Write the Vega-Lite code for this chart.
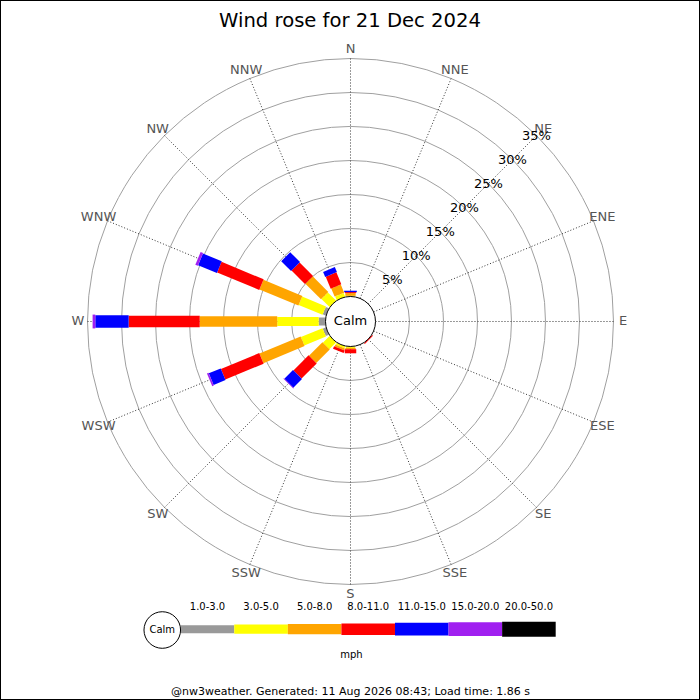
{
  "$schema": "https://vega.github.io/schema/vega-lite/v6.json",
  "width": 700,
  "height": 700,
  "autosize": {"type": "fit", "contains": "padding"},
  "padding": 0,
  "title": {
    "text": "Wind rose for 21 Dec 2024",
    "font": "DejaVu Sans",
    "fontSize": 19.6,
    "fontWeight": "normal",
    "color": "black",
    "anchor": "middle",
    "offset": -47,
    "baseline": "alphabetic"
  },
  "datasets": {
    "rose": [
      {"dir": "N", "angle": 0, "bin": "3.0-5.0", "pct": 0.1},
      {"dir": "N", "angle": 0, "bin": "5.0-8.0", "pct": 0.4},
      {"dir": "N", "angle": 0, "bin": "8.0-11.0", "pct": 0.15},
      {"dir": "N", "angle": 0, "bin": "11.0-15.0", "pct": 0.2},
      {"dir": "NNW", "angle": 337.5, "bin": "3.0-5.0", "pct": 0.6},
      {"dir": "NNW", "angle": 337.5, "bin": "5.0-8.0", "pct": 1.3},
      {"dir": "NNW", "angle": 337.5, "bin": "8.0-11.0", "pct": 1.9},
      {"dir": "NNW", "angle": 337.5, "bin": "11.0-15.0", "pct": 0.8},
      {"dir": "NW", "angle": 315, "bin": "3.0-5.0", "pct": 1.7},
      {"dir": "NW", "angle": 315, "bin": "5.0-8.0", "pct": 3.25},
      {"dir": "NW", "angle": 315, "bin": "8.0-11.0", "pct": 2.8},
      {"dir": "NW", "angle": 315, "bin": "11.0-15.0", "pct": 2.05},
      {"dir": "WNW", "angle": 292.5, "bin": "1.0-3.0", "pct": 0.5},
      {"dir": "WNW", "angle": 292.5, "bin": "3.0-5.0", "pct": 3.8},
      {"dir": "WNW", "angle": 292.5, "bin": "5.0-8.0", "pct": 6.2},
      {"dir": "WNW", "angle": 292.5, "bin": "8.0-11.0", "pct": 6.7},
      {"dir": "WNW", "angle": 292.5, "bin": "11.0-15.0", "pct": 3.0},
      {"dir": "WNW", "angle": 292.5, "bin": "15.0-20.0", "pct": 0.4},
      {"dir": "W", "angle": 270, "bin": "1.0-3.0", "pct": 1.0},
      {"dir": "W", "angle": 270, "bin": "3.0-5.0", "pct": 6.1},
      {"dir": "W", "angle": 270, "bin": "5.0-8.0", "pct": 11.4},
      {"dir": "W", "angle": 270, "bin": "8.0-11.0", "pct": 10.45},
      {"dir": "W", "angle": 270, "bin": "11.0-15.0", "pct": 4.9},
      {"dir": "W", "angle": 270, "bin": "15.0-20.0", "pct": 0.4},
      {"dir": "WSW", "angle": 247.5, "bin": "1.0-3.0", "pct": 0.5},
      {"dir": "WSW", "angle": 247.5, "bin": "3.0-5.0", "pct": 3.45},
      {"dir": "WSW", "angle": 247.5, "bin": "5.0-8.0", "pct": 6.55},
      {"dir": "WSW", "angle": 247.5, "bin": "8.0-11.0", "pct": 6.1},
      {"dir": "WSW", "angle": 247.5, "bin": "11.0-15.0", "pct": 1.9},
      {"dir": "WSW", "angle": 247.5, "bin": "15.0-20.0", "pct": 0.25},
      {"dir": "SW", "angle": 225, "bin": "3.0-5.0", "pct": 1.4},
      {"dir": "SW", "angle": 225, "bin": "5.0-8.0", "pct": 2.8},
      {"dir": "SW", "angle": 225, "bin": "8.0-11.0", "pct": 3.15},
      {"dir": "SW", "angle": 225, "bin": "11.0-15.0", "pct": 1.8},
      {"dir": "SW", "angle": 225, "bin": "15.0-20.0", "pct": 0.1},
      {"dir": "SSW", "angle": 202.5, "bin": "3.0-5.0", "pct": 0.3},
      {"dir": "SSW", "angle": 202.5, "bin": "5.0-8.0", "pct": 0.3},
      {"dir": "SSW", "angle": 202.5, "bin": "8.0-11.0", "pct": 0.4},
      {"dir": "S", "angle": 180, "bin": "3.0-5.0", "pct": 0.2},
      {"dir": "S", "angle": 180, "bin": "5.0-8.0", "pct": 0.2},
      {"dir": "S", "angle": 180, "bin": "8.0-11.0", "pct": 0.6},
      {"dir": "SE", "angle": 135, "bin": "8.0-11.0", "pct": 0.15}
    ],
    "dirs": [
      {"dir": "N", "angle": 0},
      {"dir": "NNE", "angle": 22.5},
      {"dir": "NE", "angle": 45},
      {"dir": "ENE", "angle": 67.5},
      {"dir": "E", "angle": 90},
      {"dir": "ESE", "angle": 112.5},
      {"dir": "SE", "angle": 135},
      {"dir": "SSE", "angle": 157.5},
      {"dir": "S", "angle": 180},
      {"dir": "SSW", "angle": 202.5},
      {"dir": "SW", "angle": 225},
      {"dir": "WSW", "angle": 247.5},
      {"dir": "W", "angle": 270},
      {"dir": "WNW", "angle": 292.5},
      {"dir": "NW", "angle": 315},
      {"dir": "NNW", "angle": 337.5}
    ],
    "rings": [
      {"pct": 5}, {"pct": 10}, {"pct": 15}, {"pct": 20},
      {"pct": 25}, {"pct": 30}, {"pct": 35}
    ],
    "bins": [
      {"bin": "1.0-3.0"},
      {"bin": "3.0-5.0"},
      {"bin": "5.0-8.0"},
      {"bin": "8.0-11.0"},
      {"bin": "11.0-15.0"},
      {"bin": "15.0-20.0"},
      {"bin": "20.0-50.0"}
    ]
  },
  "layer": [
    {
      "data": {"name": "rings"},
      "transform": [
        {"calculate": "datum.pct + 3.676", "as": "r"},
        {"calculate": "0", "as": "x"},
        {"calculate": "0", "as": "y"}
      ],
      "mark": {"type": "point", "shape": "circle", "filled": false, "stroke": "#a0a0a0", "strokeWidth": 1, "opacity": 1},
      "encoding": {
        "x": {
          "field": "x", "type": "quantitative",
          "scale": {"domain": [-51.544, 51.397], "nice": false, "zero": false},
          "axis": {
            "orient": "bottom", "domain": false, "ticks": false, "labels": false, "grid": false,
            "title": "@nw3weather. Generated: 11 Aug 2026 08:43; Load time: 1.86 s",
            "titleFont": "DejaVu Sans", "titleFontSize": 11, "titleFontWeight": "normal", "titleColor": "black",
            "titleY": -6, "titleBaseline": "alphabetic", "minExtent": 0
          }
        },
        "y": {
          "field": "y", "type": "quantitative",
          "scale": {"domain": [-55.662, 47.279], "nice": false, "zero": false},
          "axis": {
            "orient": "left", "domain": false, "ticks": false, "labels": false, "grid": false,
            "title": "mph", "titleAngle": 0, "titleX": 351, "titleY": 654,
            "titleAlign": "center", "titleBaseline": "middle",
            "titleFont": "DejaVu Sans", "titleFontSize": 10, "titleFontWeight": "normal", "titleColor": "black",
            "minExtent": 0
          }
        },
        "size": {
          "field": "r", "type": "quantitative",
          "scale": {"type": "pow", "exponent": 2, "domain": [0, 40], "range": [0, 295936]},
          "legend": null
        }
      }
    },
    {
      "data": {"name": "dirs"},
      "transform": [
        {"calculate": "datum.angle * PI / 180", "as": "a"},
        {"calculate": "3.676 * sin(datum.a)", "as": "x"},
        {"calculate": "3.676 * cos(datum.a)", "as": "y"},
        {"calculate": "38.676 * sin(datum.a)", "as": "x2"},
        {"calculate": "38.676 * cos(datum.a)", "as": "y2"}
      ],
      "mark": {"type": "rule", "color": "#333333", "strokeWidth": 1, "strokeDash": [1, 2]},
      "encoding": {
        "x": {"field": "x", "type": "quantitative", "scale": {"domain": [-51.544, 51.397], "nice": false, "zero": false}},
        "y": {"field": "y", "type": "quantitative", "scale": {"domain": [-55.662, 47.279], "nice": false, "zero": false}},
        "x2": {"field": "x2"},
        "y2": {"field": "y2"}
      }
    },
    {
      "data": {"name": "rose"},
      "transform": [
        {"calculate": "indexof(['1.0-3.0','3.0-5.0','5.0-8.0','8.0-11.0','11.0-15.0','15.0-20.0','20.0-50.0'], datum.bin)", "as": "k"},
        {"window": [{"op": "sum", "field": "pct", "as": "cum"}], "groupby": ["dir"], "sort": [{"field": "k", "order": "ascending"}], "frame": [null, 0]},
        {"calculate": "datum.angle * PI / 180", "as": "a"},
        {"calculate": "(3.676 + datum.cum - datum.pct) * sin(datum.a)", "as": "x"},
        {"calculate": "(3.676 + datum.cum - datum.pct) * cos(datum.a)", "as": "y"},
        {"calculate": "(3.676 + datum.cum) * sin(datum.a)", "as": "x2"},
        {"calculate": "(3.676 + datum.cum) * cos(datum.a)", "as": "y2"}
      ],
      "mark": {"type": "rule", "strokeCap": "butt"},
      "encoding": {
        "x": {"field": "x", "type": "quantitative", "scale": {"domain": [-51.544, 51.397], "nice": false, "zero": false}},
        "y": {"field": "y", "type": "quantitative", "scale": {"domain": [-55.662, 47.279], "nice": false, "zero": false}},
        "x2": {"field": "x2"},
        "y2": {"field": "y2"},
        "color": {
          "field": "bin", "type": "nominal",
          "scale": {
            "domain": ["1.0-3.0", "3.0-5.0", "5.0-8.0", "8.0-11.0", "11.0-15.0", "15.0-20.0", "20.0-50.0"],
            "range": ["#999999", "#ffff00", "#ffa500", "#ff0000", "#0000ff", "#a020f0", "#000000"]
          },
          "legend": null
        },
        "strokeWidth": {
          "field": "bin", "type": "ordinal",
          "scale": {
            "domain": ["1.0-3.0", "3.0-5.0", "5.0-8.0", "8.0-11.0", "11.0-15.0", "15.0-20.0", "20.0-50.0"],
            "range": [8, 15, 21, 23, 25, 27, 29]
          },
          "legend": null
        },
        "tooltip": [
          {"field": "dir", "title": "Direction"},
          {"field": "bin", "title": "Speed (mph)"},
          {"field": "pct", "title": "Frequency (%)"}
        ]
      }
    },
    {
      "data": {"values": [{"label": "Calm"}]},
      "transform": [
        {"calculate": "0", "as": "x"},
        {"calculate": "0", "as": "y"},
        {"calculate": "3.676", "as": "r"}
      ],
      "layer": [
        {
          "mark": {"type": "point", "shape": "circle", "filled": true, "fill": "white", "stroke": "black", "strokeWidth": 1, "opacity": 1},
          "encoding": {
            "size": {"field": "r", "type": "quantitative", "scale": {"type": "pow", "exponent": 2, "domain": [0, 40], "range": [0, 295936]}, "legend": null}
          }
        },
        {
          "mark": {"type": "text", "fontSize": 13, "color": "black", "align": "center", "baseline": "middle"},
          "encoding": {"text": {"field": "label"}}
        }
      ],
      "encoding": {
        "x": {"field": "x", "type": "quantitative", "scale": {"domain": [-51.544, 51.397], "nice": false, "zero": false}},
        "y": {"field": "y", "type": "quantitative", "scale": {"domain": [-55.662, 47.279], "nice": false, "zero": false}}
      }
    },
    {
      "data": {"name": "dirs"},
      "transform": [
        {"calculate": "datum.angle * PI / 180", "as": "a"},
        {"calculate": "40.1 * sin(datum.a)", "as": "x"},
        {"calculate": "40.1 * cos(datum.a)", "as": "y"}
      ],
      "mark": {"type": "text", "fontSize": 13, "color": "#555555", "align": "center", "baseline": "middle"},
      "encoding": {
        "x": {"field": "x", "type": "quantitative", "scale": {"domain": [-51.544, 51.397], "nice": false, "zero": false}},
        "y": {"field": "y", "type": "quantitative", "scale": {"domain": [-55.662, 47.279], "nice": false, "zero": false}},
        "text": {"field": "dir"}
      }
    },
    {
      "data": {"name": "rings"},
      "transform": [
        {"calculate": "(datum.pct + 3.676) * 0.70711", "as": "x"},
        {"calculate": "(datum.pct + 3.676) * 0.70711", "as": "y"},
        {"calculate": "datum.pct + '%'", "as": "lab"}
      ],
      "mark": {"type": "text", "fontSize": 13, "color": "black", "align": "center", "baseline": "middle"},
      "encoding": {
        "x": {"field": "x", "type": "quantitative", "scale": {"domain": [-51.544, 51.397], "nice": false, "zero": false}},
        "y": {"field": "y", "type": "quantitative", "scale": {"domain": [-55.662, 47.279], "nice": false, "zero": false}},
        "text": {"field": "lab"}
      }
    },
    {
      "data": {"name": "bins"},
      "transform": [
        {"calculate": "indexof(['1.0-3.0','3.0-5.0','5.0-8.0','8.0-11.0','11.0-15.0','15.0-20.0','20.0-50.0'], datum.bin)", "as": "k"},
        {"calculate": "-24.97 + 7.878 * datum.k", "as": "lx"},
        {"calculate": "datum.lx + 7.878", "as": "lx2"},
        {"calculate": "datum.lx + 3.939", "as": "mx"},
        {"calculate": "-45.25", "as": "ly"},
        {"calculate": "-41.99", "as": "ty"}
      ],
      "layer": [
        {
          "mark": {"type": "rule", "strokeCap": "butt"},
          "encoding": {
            "x": {"field": "lx", "type": "quantitative", "scale": {"domain": [-51.544, 51.397], "nice": false, "zero": false}},
            "x2": {"field": "lx2"},
            "y": {"field": "ly", "type": "quantitative", "scale": {"domain": [-55.662, 47.279], "nice": false, "zero": false}},
            "color": {"field": "bin", "type": "nominal", "legend": null},
            "strokeWidth": {"field": "bin", "type": "ordinal", "legend": null}
          }
        },
        {
          "mark": {"type": "text", "fontSize": 10, "color": "black", "align": "center", "baseline": "middle"},
          "encoding": {
            "x": {"field": "mx", "type": "quantitative", "scale": {"domain": [-51.544, 51.397], "nice": false, "zero": false}},
            "y": {"field": "ty", "type": "quantitative", "scale": {"domain": [-55.662, 47.279], "nice": false, "zero": false}},
            "text": {"field": "bin"}
          }
        }
      ]
    },
    {
      "data": {"values": [{"label": "Calm"}]},
      "transform": [
        {"calculate": "-27.68", "as": "x"},
        {"calculate": "-45.37", "as": "y"},
        {"calculate": "2.69", "as": "r"}
      ],
      "layer": [
        {
          "mark": {"type": "point", "shape": "circle", "filled": true, "fill": "white", "stroke": "black", "strokeWidth": 1, "opacity": 1},
          "encoding": {
            "size": {"field": "r", "type": "quantitative", "scale": {"type": "pow", "exponent": 2, "domain": [0, 40], "range": [0, 295936]}, "legend": null}
          }
        },
        {
          "mark": {"type": "text", "fontSize": 10, "color": "black", "align": "center", "baseline": "middle"},
          "encoding": {"text": {"field": "label"}}
        }
      ],
      "encoding": {
        "x": {"field": "x", "type": "quantitative", "scale": {"domain": [-51.544, 51.397], "nice": false, "zero": false}},
        "y": {"field": "y", "type": "quantitative", "scale": {"domain": [-55.662, 47.279], "nice": false, "zero": false}}
      }
    }
  ],
  "config": {
    "font": "DejaVu Sans",
    "view": {"stroke": "black", "strokeWidth": 2}
  }
}
